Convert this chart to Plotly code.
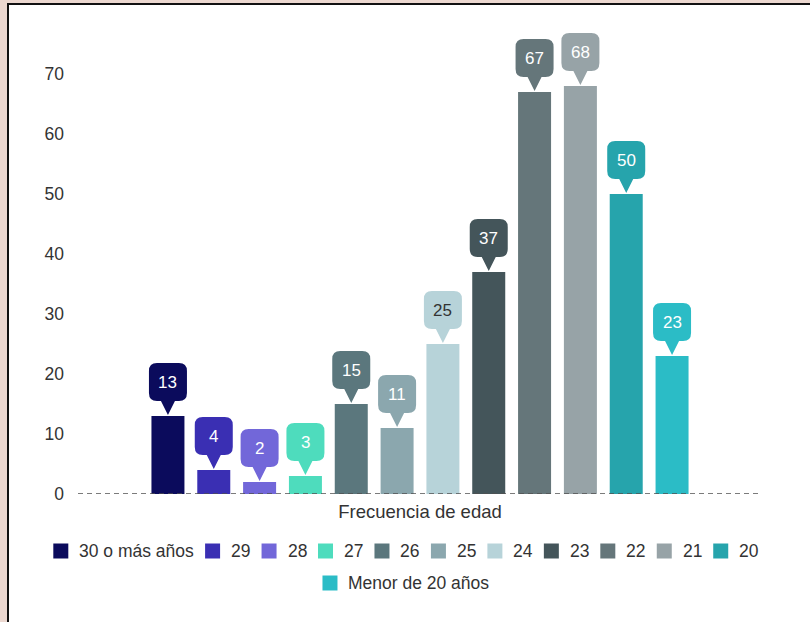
import plotly.graph_objects as go

# ---------------- data ----------------
category = ["Frecuencia de edad"]
series_names = ["30 o más años", "29", "28", "27", "26", "25", "24", "23",
                "22", "21", "20", "Menor de 20 años"]
series_values = [13, 4, 2, 3, 15, 11, 25, 37, 67, 68, 50, 23]
series_colors = ["#0b0b5c", "#3a2fb3", "#7267d9", "#4edcbd", "#5b777d", "#8ba7ae",
                 "#b7d3d9", "#44555a", "#65767a", "#97a3a7", "#26a4ac", "#2bbcc6"]
label_colors = ["#ffffff"] * 6 + ["#333333"] + ["#ffffff"] * 5
y_ticks = [0, 10, 20, 30, 40, 50, 60, 70]

# ---------------- layout constants ----------------
W, H = 810, 622
ML, MR, MT, MB = 78, 48, 17, 128
PW, PH = W - ML - MR, H - MT - MB
Y_MAX = 79.5
BARGAP, BARGROUPGAP = 0.196, 0.28
FONT = "Arial, Liberation Sans, sans-serif"
TXT = "#333333"
PAGE_BG = "#ecd8d0"

def px_to_paper_x(px):
    return (px - ML) / PW

def px_to_paper_y(py):
    return (H - MB - py) / PH

fig = go.Figure()
for name, val, col in zip(series_names, series_values, series_colors):
    fig.add_trace(go.Bar(x=category, y=[val], name=name, marker_color=col,
                         marker_line_width=0, showlegend=False, hoverinfo="y+name"))

shapes = []
annotations = []

# outer white card with black frame
shapes.append(dict(type="rect", xref="paper", yref="paper",
                   x0=px_to_paper_x(8), x1=px_to_paper_x(W + 6),
                   y0=px_to_paper_y(H + 6), y1=px_to_paper_y(4),
                   fillcolor="white", line=dict(color="#111111", width=2), layer="below"))

# dashed zero line
shapes.append(dict(type="line", xref="paper", yref="y", x0=0, x1=1, y0=0, y1=0,
                   line=dict(color="#505050", width=1.4, dash="5px,4px"), layer="above"))

# callout balloons above each bar
n = len(series_values)
slot = PW * (1 - BARGAP) / n
balloon = ("M -11,15 L -7,15 L 0,1 L 7,15 L 11,15 Q 19,15 19,23 L 19,45 "
           "Q 19,53 11,53 L -11,53 Q -19,53 -19,45 L -19,23 Q -19,15 -11,15 Z")
for i, (val, col, lc) in enumerate(zip(series_values, series_colors, label_colors)):
    off = (i - (n - 1) / 2) * slot
    path = []
    for t in balloon.split(" "):
        if "," in t:
            a, b = t.split(",")
            path.append(f"{float(a) + off:.2f},{b}")
        else:
            path.append(t)
    shapes.append(dict(type="path", xref="x", yref="y", xsizemode="pixel", ysizemode="pixel",
                       xanchor=0, yanchor=val, path=" ".join(path),
                       fillcolor=col, line=dict(width=0), layer="above"))
    annotations.append(dict(x=0, y=val, xref="x", yref="y", xshift=off, yshift=34,
                            text=str(val), showarrow=False, xanchor="center", yanchor="middle",
                            font=dict(family=FONT, size=17, color=lc)))

# custom legend (centered rows)
LEG_FS = 17.5
CW = {"0": .556, "1": .556, "2": .556, "3": .556, "4": .556, "5": .556, "6": .556,
      "7": .556, "8": .556, "9": .556, " ": .278, "o": .556, "m": .833, "á": .556,
      "s": .5, "a": .556, "ñ": .556, "M": .833, "e": .556, "n": .556, "r": .333, "d": .556}

def text_w(s):
    return sum(CW.get(c, .556) for c in s) * LEG_FS

items = [(nm, col, 24 + text_w(nm)) for nm, col in zip(series_names, series_colors)]
GAP = 13
rows, cur, cur_w = [], [], 0
for it in items:
    add = it[2] + (GAP if cur else 0)
    if cur and cur_w + add > 740:
        rows.append((cur, cur_w))
        cur, cur_w = [it], it[2]
    else:
        cur.append(it)
        cur_w += add
rows.append((cur, cur_w))

row_y = [551, 583]
for r, (row, rw) in enumerate(rows):
    x = W / 2 - rw / 2
    cy = row_y[r]
    for nm, col, w in row:
        shapes.append(dict(type="rect", xref="paper", yref="paper",
                           x0=px_to_paper_x(x), x1=px_to_paper_x(x + 15),
                           y0=px_to_paper_y(cy + 7.5), y1=px_to_paper_y(cy - 7.5),
                           fillcolor=col, line=dict(width=0)))
        annotations.append(dict(x=px_to_paper_x(x + 24), y=px_to_paper_y(cy), xref="paper",
                                yref="paper", text=nm, showarrow=False, xanchor="left",
                                yanchor="middle", font=dict(family=FONT, size=LEG_FS, color=TXT)))
        x += w + GAP

fig.update_layout(
    width=W, height=H,
    margin=dict(l=ML, r=MR, t=MT, b=MB),
    paper_bgcolor=PAGE_BG, plot_bgcolor="rgba(0,0,0,0)",
    barmode="group", bargap=BARGAP, bargroupgap=BARGROUPGAP,
    font=dict(family=FONT, color=TXT),
    showlegend=False,
    shapes=shapes, annotations=annotations,
    xaxis=dict(showgrid=False, zeroline=False, showline=False, ticks="",
               tickfont=dict(size=18.5, color=TXT), ticklabelstandoff=4),
    yaxis=dict(range=[0, Y_MAX], tickvals=y_ticks, showgrid=False, zeroline=False,
               showline=False, ticks="", tickfont=dict(size=17.5, color=TXT),
               ticklabelstandoff=13),
)

fig.write_html("out.html", config={"displayModeBar": False},
               post_script="document.body.style.margin='0';"
                           f"document.body.style.background='{PAGE_BG}';")
